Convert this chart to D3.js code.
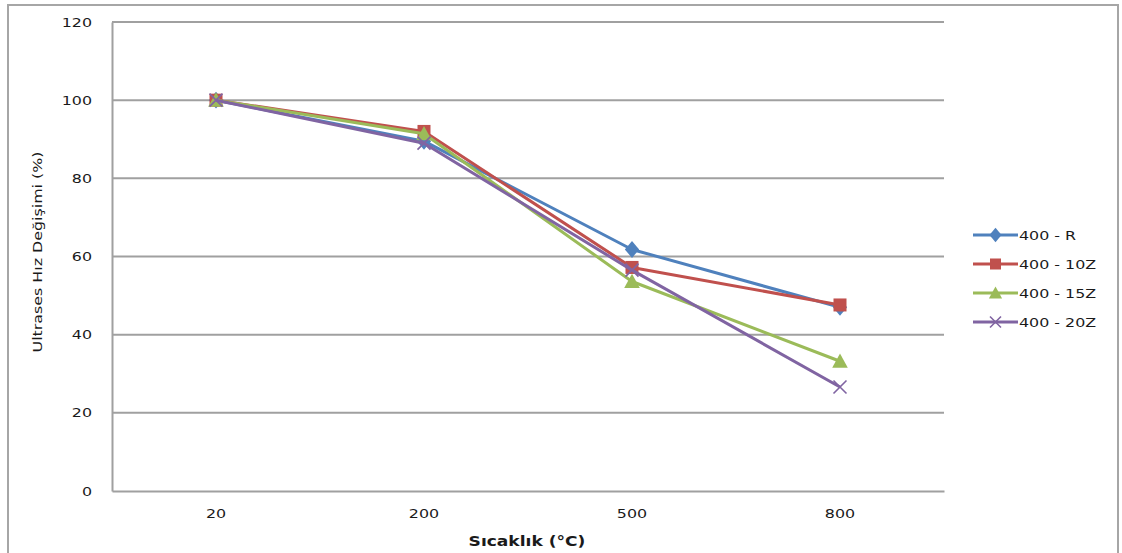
<!DOCTYPE html>
<html>
<head>
<meta charset="utf-8">
<script src="https://cdn.jsdelivr.net/npm/d3@7"></script>
<style>
  html, body { margin: 0; padding: 0; background: #fff; }
  svg text { font-family: "DejaVu Sans", Verdana, sans-serif; fill: #1a1a1a; }
</style>
</head>
<body>
<svg id="chart" width="1122" height="553"></svg>
<script>
// Temperature categories (°C)
const categories = ["20", "200", "500", "800"];
// Ultrasonic velocity change (%) per mix
const seriesNames = ["400 - R", "400 - 10Z", "400 - 15Z", "400 - 20Z"];
const valuesR   = [100, 89.5, 61.8, 47.0];
const values10Z = [100, 92.0, 57.2, 47.6];
const values15Z = [100, 91.4, 53.6, 33.2];
const values20Z = [100, 89.0, 56.5, 26.6];
const yTicks = [0, 20, 40, 60, 80, 100, 120];

const colors = ["#4F81BD", "#C0504D", "#9BBB59", "#8064A2"];
const markers = ["diamond", "square", "triangle", "cross"];
const series = [valuesR, values10Z, values15Z, values20Z].map((v, i) => ({
  name: seriesNames[i], values: v, color: colors[i], marker: markers[i]
}));

const svg = d3.select("#chart");

// outer chart frame
svg.append("rect")
  .attr("x", 8).attr("y", 5).attr("width", 1110).attr("height", 560)
  .attr("fill", "none").attr("stroke", "#a6a6a6").attr("stroke-width", 2);

const plot = { left: 112, right: 944, top: 22, bottom: 491 };

const x = d3.scaleBand().domain(categories).range([plot.left, plot.right]);
const y = d3.scaleLinear().domain([0, 120]).range([plot.bottom, plot.top]);

// horizontal gridlines
svg.append("g")
  .selectAll("line")
  .data(yTicks.filter(t => t > 0))
  .join("line")
  .attr("x1", plot.left).attr("x2", plot.right)
  .attr("y1", d => y(d)).attr("y2", d => y(d))
  .attr("stroke", "#a0a0a0").attr("stroke-width", 2);

// value axis
const yAxis = svg.append("g")
  .attr("transform", `translate(${plot.left},0)`)
  .call(d3.axisLeft(y).tickValues(yTicks).tickSize(0).tickPadding(20));
yAxis.select(".domain").attr("stroke", "#a0a0a0").attr("stroke-width", 2);
yAxis.selectAll("text").attr("font-size", 13).attr("fill", "#1a1a1a")
  .style("font-family", "'DejaVu Sans', sans-serif");

// category axis
const xAxis = svg.append("g")
  .attr("transform", `translate(0,${plot.bottom})`)
  .call(d3.axisBottom(x).tickSize(0).tickPadding(18));
xAxis.select(".domain").attr("stroke", "#a0a0a0").attr("stroke-width", 2);
xAxis.selectAll("text").attr("font-size", 13).attr("fill", "#1a1a1a")
  .style("font-family", "'DejaVu Sans', sans-serif");

// axis titles
svg.append("text")
  .attr("x", 527).attr("y", 546)
  .attr("text-anchor", "middle")
  .attr("font-size", 14).attr("font-weight", "bold")
  .text("Sıcaklık (°C)");

svg.append("text")
  .attr("transform", "translate(42,252) rotate(-90)")
  .attr("text-anchor", "middle")
  .attr("font-size", 13)
  .text("Ultrases Hız Değişimi (%)");

const cx = (d, i) => x(categories[i]) + x.bandwidth() / 2;

const line = d3.line()
  .x((d, i) => cx(d, i))
  .y(d => y(d));

function drawMarker(g, type, color, px, py, s) {
  if (type === "diamond") {
    g.append("path")
      .attr("d", `M${px},${py - s * 0.65}L${px + s * 0.55},${py}L${px},${py + s * 0.65}L${px - s * 0.55},${py}Z`)
      .attr("fill", color);
  } else if (type === "square") {
    g.append("rect")
      .attr("x", px - s / 2).attr("y", py - s / 2)
      .attr("width", s).attr("height", s)
      .attr("fill", color);
  } else if (type === "triangle") {
    g.append("path")
      .attr("d", `M${px},${py - s * 0.6}L${px + s * 0.6},${py + s * 0.5}L${px - s * 0.6},${py + s * 0.5}Z`)
      .attr("fill", color);
  } else {
    const r = s * 0.5;
    g.append("path")
      .attr("d", `M${px - r},${py - r}L${px + r},${py + r}M${px - r},${py + r}L${px + r},${py - r}`)
      .attr("stroke", color).attr("stroke-width", 1.6).attr("fill", "none");
  }
}

series.forEach(s => {
  const g = svg.append("g");
  g.append("path")
    .datum(s.values)
    .attr("d", line)
    .attr("fill", "none")
    .attr("stroke", s.color)
    .attr("stroke-width", 3)
    .attr("stroke-linejoin", "round");
  s.values.forEach((v, i) => drawMarker(g, s.marker, s.color, cx(v, i), y(v), 13));
});

// legend
const legendY = [235, 264, 293, 322];
series.forEach((s, i) => {
  const g = svg.append("g");
  g.append("line")
    .attr("x1", 973).attr("x2", 1018)
    .attr("y1", legendY[i]).attr("y2", legendY[i])
    .attr("stroke", s.color).attr("stroke-width", 3);
  drawMarker(g, s.marker, s.color, 995.5, legendY[i], 11);
  g.append("text")
    .attr("x", 1019).attr("y", legendY[i] + 5)
    .attr("font-size", 13)
    .text(s.name);
});

// the chart's lettering is set wide: stretch each label about its anchor point
svg.selectAll("text").each(function () {
  const tx = +this.getAttribute("x") || 0;
  const prev = this.getAttribute("transform") || "";
  this.setAttribute("transform",
    `${prev} translate(${tx},0) scale(1.22,1) translate(${-tx},0)`);
});
</script>
</body>
</html>
